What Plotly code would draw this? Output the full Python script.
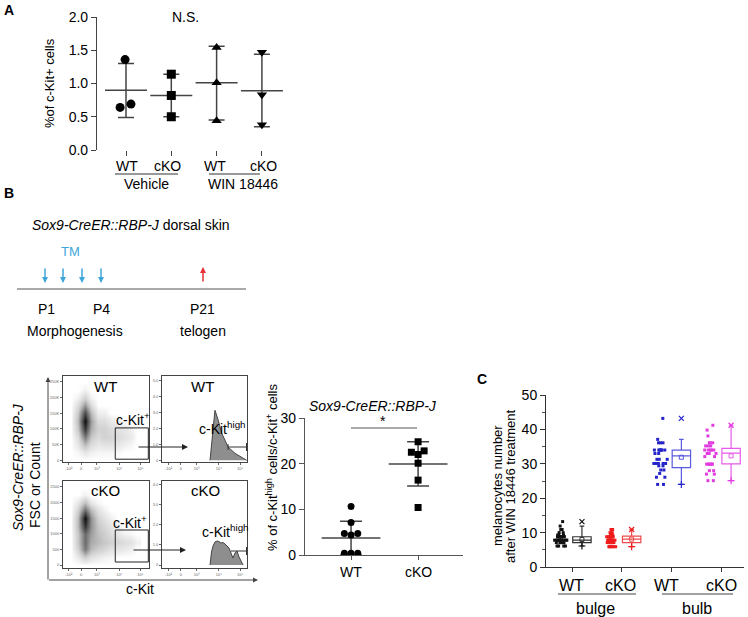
import plotly.graph_objects as go

W, H = 748, 617
FONT = "Liberation Sans, Arial, sans-serif"


def fx(px):
    return px / W


def fy(py):
    return 1 - py / H


# ---------------- DATA ----------------
# Panel A
a_genotype = ["WT", "cKO", "WT", "cKO"]
a_treatment = ["Vehicle", "WIN 18446"]
a_values = [[1.36, 0.64, 0.69], [1.14, 0.82, 0.50], [1.54, 1.01, 0.44], [1.47, 0.83, 0.38]]
a_jitter = [[-0.02, -0.13, 0.11], [0, 0, 0], [0, 0, 0], [0, 0, 0]]
a_mean = [0.90, 0.82, 1.01, 0.89]
a_upper = [1.30, 1.14, 1.56, 1.44]
a_lower = [0.49, 0.50, 0.45, 0.35]
a_yticks = [0, 0.5, 1.0, 1.5, 2.0]

# Panel B scatter
b_groups = ["WT", "cKO"]
b_wt = [10.6, 7.1, 4.7, 4.4, 4.7, 0.4, 0.4, 0.4]
b_wt_jitter = [0, 0, -0.1, 0, 0.1, -0.1, 0, 0.1]
b_ko = [24.8, 22.5, 22.8, 22.0, 20.1, 16.4, 10.4]
b_ko_jitter = [0, -0.1, 0.09, 0, 0, 0, 0]
b_mean = [3.7, 19.9]
b_upper = [7.4, 24.8]
b_lower = [0.0, 15.1]

# Panel B flow: density grids (c-Kit display units x FSC), relative event density
dens_x = [-0.6, -0.2, 0.2, 0.6, 1.0, 1.4, 1.8, 2.2, 2.6, 3.0, 3.4]
wt_dens_y = [0, 25, 50, 75, 100, 125, 150, 175, 200, 225, 250]
wt_dens = [
    [0, 0, 0, 0, 0, 0, 0, 0, 0, 0, 0],
    [0, 0.03, 0.10, 0.05, 0.03, 0.03, 0.03, 0.02, 0, 0, 0],
    [0, 0.10, 0.32, 0.15, 0.10, 0.12, 0.12, 0.10, 0.06, 0.03, 0],
    [0, 0.15, 0.55, 0.25, 0.15, 0.20, 0.18, 0.15, 0.12, 0.08, 0],
    [0, 0.25, 0.82, 0.35, 0.20, 0.20, 0.15, 0.12, 0.10, 0.06, 0],
    [0, 0.30, 1.00, 0.40, 0.15, 0.15, 0.08, 0.05, 0, 0, 0],
    [0, 0.25, 0.75, 0.30, 0.06, 0.06, 0, 0, 0, 0, 0],
    [0, 0.15, 0.42, 0.15, 0, 0, 0, 0, 0, 0, 0],
    [0, 0.05, 0.20, 0.05, 0, 0, 0, 0, 0, 0, 0],
    [0, 0, 0.05, 0, 0, 0, 0, 0, 0, 0, 0],
    [0, 0, 0, 0, 0, 0, 0, 0, 0, 0, 0],
]
ko_dens_y = [0, 250, 500, 750, 1000, 1250, 1500, 1750, 2000, 2250, 2500]
ko_dens = [
    [0, 0, 0, 0, 0, 0, 0, 0, 0, 0, 0],
    [0, 0.08, 0.22, 0.12, 0.08, 0.05, 0.03, 0, 0, 0, 0],
    [0, 0.20, 0.55, 0.30, 0.22, 0.18, 0.12, 0.10, 0.08, 0.05, 0],
    [0, 0.25, 0.60, 0.35, 0.30, 0.25, 0.20, 0.18, 0.15, 0.12, 0.05],
    [0, 0.25, 0.60, 0.40, 0.28, 0.22, 0.15, 0.10, 0.05, 0.03, 0],
    [0, 0.30, 0.85, 0.45, 0.25, 0.18, 0.10, 0.05, 0, 0, 0],
    [0, 0.30, 1.00, 0.45, 0.20, 0.12, 0.05, 0, 0, 0, 0],
    [0, 0.20, 0.60, 0.30, 0.12, 0.05, 0, 0, 0, 0, 0],
    [0, 0.10, 0.30, 0.10, 0.03, 0, 0, 0, 0, 0, 0],
    [0, 0, 0.05, 0, 0, 0, 0, 0, 0, 0, 0],
    [0, 0, 0, 0, 0, 0, 0, 0, 0, 0, 0],
]

# Panel B flow: histograms
hw_x = [1.76, 1.90, 1.98, 2.06, 2.26, 2.47, 2.67, 2.85, 3.27, 3.76, 3.98]
hw_y = [0, 27.6, 47.4, 59.3, 47.4, 32, 23.7, 15.8, 8.3, 2.4, 0]
hk_x = [1.76, 1.85, 1.94, 2.06, 2.18, 2.30, 2.42, 2.55, 2.67, 2.79, 2.91, 3.03, 3.15, 3.27, 3.39, 3.52, 3.64, 3.76]
hk_y = [0, 15.5, 22.6, 27.4, 28.6, 28, 26.2, 26.8, 25, 22.6, 20.2, 14.3, 8.3, 14.3, 16.7, 9.5, 3.6, 0]
flow_xticks = [-0.75, 0, 0.95, 2.3, 3.58]
flow_xtext = ["-10²", "0", "10³", "10⁴", "10⁵"]

# Panel C
c_genotype = ["WT", "cKO", "WT", "cKO"]
c_region = ["bulge", "bulb"]
c_points = [
    [13.2, 11.9, 10.9, 10.9, 10.0, 10.0, 9.3, 9.3, 9.3] + [8.8] * 8 + [7.8] * 10 + [7.1] * 6 + [6.1] * 4,
    [10.9, 10.9, 10.0, 10.0, 9.3, 9.3, 9.3] + [8.8] * 8 + [7.8] * 10 + [7.1] * 8 + [5.9] * 6,
    [43.2, 37.1, 36.1, 36.1, 36.1] + [34.0] * 7 + [33.0] * 2 + [31.3] * 3 + [30.1] * 5 + [29.4] * 2
    + [28.2] * 2 + [27.2] + [26.1] * 2 + [24.0] * 2,
    [41.2, 39.8, 38.1] + [36.1] * 3 + [35.2] * 3 + [34.0] * 5 + [33.0] * 3 + [32.1] * 2 + [29.9] * 6
    + [28.0] * 2 + [27.0] * 2 + [25.1] * 2,
]
c_q1 = [7.1, 7.1, 28.9, 30.0]
c_median = [7.8, 8.1, 32.3, 33.1]
c_q3 = [8.8, 9.0, 34.0, 34.5]
c_low = [6.1, 5.9, 24.0, 25.1]
c_high = [11.9, 10.9, 37.1, 41.2]
c_mean = [8.0, 8.1, 31.9, 32.3]
c_max = [13.2, 10.9, 43.2, 41.2]
c_colors = ["#111111", "#ee1c1c", "#2424c8", "#e03ce0"]
c_box_colors = ["#333333", "#f04a4a", "#5a5ae0", "#e85ae8"]

# ---------------- FIGURE ----------------
fig = go.Figure()

# Panel A
a_symbols = ["circle", "square", "triangle-up", "triangle-down"]
for i in range(4):
    pos = i + 1
    fig.add_trace(go.Scatter(
        x=[pos], y=[a_mean[i]], mode="markers", xaxis="x", yaxis="y",
        marker=dict(symbol="line-ew", size=30, line=dict(width=1.5, color="#444")),
        error_y=dict(type="data", symmetric=False, array=[a_upper[i] - a_mean[i]],
                     arrayminus=[a_mean[i] - a_lower[i]], width=8, thickness=1.5, color="#444"),
        hoverinfo="skip"))
    fig.add_trace(go.Scatter(
        x=[pos + j for j in a_jitter[i]], y=a_values[i], mode="markers", xaxis="x", yaxis="y",
        marker=dict(symbol=a_symbols[i], size=9, color="black")))

# Panel B scatter
for pos, vals, jit, sym in [(1, b_wt, b_wt_jitter, "circle"), (2, b_ko, b_ko_jitter, "square")]:
    i = pos - 1
    fig.add_trace(go.Scatter(
        x=[pos], y=[b_mean[i]], mode="markers", xaxis="x2", yaxis="y2",
        marker=dict(symbol="line-ew", size=42, line=dict(width=1.5, color="#444")),
        error_y=dict(type="data", symmetric=False, array=[b_upper[i] - b_mean[i]],
                     arrayminus=[b_mean[i] - b_lower[i]], width=11, thickness=1.5, color="#444")))
    fig.add_trace(go.Scatter(
        x=[pos + j for j in jit], y=vals, mode="markers", xaxis="x2", yaxis="y2",
        marker=dict(symbol=sym, size=7, color="black")))

# Flow density plots
gray_scale = [[0, "rgb(255,255,255)"], [0.06, "rgb(238,238,238)"], [0.25, "rgb(200,200,200)"],
              [0.55, "rgb(120,120,120)"], [1, "rgb(15,15,15)"]]
for zz, yy, xa, ya in [(wt_dens, wt_dens_y, "x4", "y4"), (ko_dens, ko_dens_y, "x6", "y6")]:
    fig.add_trace(go.Heatmap(
        x=dens_x, y=yy, z=zz, xaxis=xa, yaxis=ya, zmin=0, zmax=1, zsmooth="best",
        colorscale=gray_scale, showscale=False, hoverinfo="skip"))

# Flow histograms
for xs, ys, xa, ya in [(hw_x, hw_y, "x5", "y5"), (hk_x, hk_y, "x7", "y7")]:
    fig.add_trace(go.Scatter(
        x=xs, y=ys, mode="lines", fill="tozeroy", xaxis=xa, yaxis=ya,
        fillcolor="#8e8e8e", line=dict(color="#444", width=1)))

# Panel C
for i in range(4):
    pos = i + 1
    col = c_colors[i]
    bcol = c_box_colors[i]
    fig.add_trace(go.Box(
        x=[pos - 0.21] * len(c_points[i]), y=c_points[i], xaxis="x3", yaxis="y3",
        boxpoints="all", jitter=1.0, pointpos=0, width=0.34,
        line=dict(width=0, color="rgba(0,0,0,0)"), fillcolor="rgba(0,0,0,0)",
        marker=dict(color=col, size=3, symbol="square")))
    fig.add_trace(go.Box(
        x=[pos + 0.2], q1=[c_q1[i]], median=[c_median[i]], q3=[c_q3[i]],
        lowerfence=[c_low[i]], upperfence=[c_high[i]], xaxis="x3", yaxis="y3",
        width=0.37, whiskerwidth=0.25, boxpoints=False,
        line=dict(color=bcol, width=1.2), fillcolor="rgba(255,255,255,0)"))
    fig.add_trace(go.Scatter(
        x=[pos + 0.2], y=[c_mean[i]], mode="markers", xaxis="x3", yaxis="y3",
        marker=dict(symbol="square-open", size=4, color=bcol, line=dict(width=1))))
    fig.add_trace(go.Scatter(
        x=[pos + 0.2], y=[c_max[i]], mode="markers", xaxis="x3", yaxis="y3",
        marker=dict(symbol="x-thin", size=5, line=dict(width=1.2, color=col))))
    fig.add_trace(go.Scatter(
        x=[pos + 0.2], y=[c_low[i]], mode="markers", xaxis="x3", yaxis="y3",
        marker=dict(symbol="cross-thin", size=5, line=dict(width=1.2, color=col))))

# ---------------- AXES ----------------
tickfont = dict(family=FONT, size=14, color="black")
tiny = dict(family=FONT, size=4, color="#666")


def flow_axes(xdom, ydom, xr, yr, yvals, ytext):
    xa = dict(domain=xdom, range=xr, showline=True, mirror=True, linecolor="#444", linewidth=1,
              ticks="outside", ticklen=2, tickwidth=0.6, tickcolor="#666", tickvals=flow_xticks,
              ticktext=flow_xtext, tickfont=tiny, showgrid=False, zeroline=False, fixedrange=True,
              automargin=False)
    ya = dict(domain=ydom, range=yr, showline=True, mirror=True, linecolor="#444", linewidth=1,
              ticks="outside", ticklen=2, tickwidth=0.6, tickcolor="#666", tickvals=yvals,
              ticktext=ytext, tickfont=tiny, showgrid=False, zeroline=False, fixedrange=True,
              automargin=False)
    return xa, ya


xa4, ya4 = flow_axes([fx(63), fx(149)], [fy(462), fy(376)], [-1.1, 4.1], [-6, 269],
                     [0, 50, 100, 150, 200, 250], ["0", "50K", "100K", "150K", "200K", "250K"])
xa5, ya5 = flow_axes([fx(162), fx(247)], [fy(462), fy(376)], [-1.15, 4.0], [-2, 100],
                     [0, 19, 38, 57, 76, 95], ["0", "1.0", "2.0", "3.0", "4.0", "5.0"])
xa6, ya6 = flow_axes([fx(63), fx(149)], [fy(568), fy(481)], [-1.1, 4.1], [-96, 2692],
                     [0, 500, 1000, 1500, 2000, 2500], ["0", "500", "1000", "1500", "2000", "2500"])
xa7, ya7 = flow_axes([fx(162), fx(247)], [fy(568), fy(481)], [-1.15, 4.0], [-3.5, 100],
                     [0, 24, 48, 72, 96], ["0", "1.0", "2.0", "3.0", "4.0"])
xa4["anchor"], ya4["anchor"] = "y4", "x4"
xa5["anchor"], ya5["anchor"] = "y5", "x5"
xa6["anchor"], ya6["anchor"] = "y6", "x6"
xa7["anchor"], ya7["anchor"] = "y7", "x7"

fig.update_layout(
    template="none",
    width=W, height=617, margin=dict(l=0, r=0, t=0, b=0, pad=0, autoexpand=False),
    paper_bgcolor="white", plot_bgcolor="white", showlegend=False, boxmode="overlay",
    font=dict(family=FONT, size=14, color="black"),
    xaxis=dict(domain=[fx(97), fx(290)], range=[0.36, 4.62], anchor="y", showline=False,
               ticks="outside", ticklen=5, tickcolor="#444", tickvals=[1, 2, 3, 4],
               showticklabels=False, showgrid=False, zeroline=False, automargin=False),
    yaxis=dict(domain=[fy(150), fy(17)], range=[0, 2], anchor="x", showline=True,
               linecolor="#444", linewidth=1.2, ticks="outside", ticklen=5, tickcolor="#444",
               tickvals=a_yticks, ticktext=["%.1f" % v for v in a_yticks], tickfont=tickfont,
               showgrid=False, zeroline=False, automargin=False),
    xaxis2=dict(domain=[fx(305), fx(463)], range=[0.313, 2.67], anchor="y2", showline=True,
                linecolor="#555", linewidth=1.2, ticks="outside", ticklen=4, tickcolor="#555",
                tickvals=[1, 2], showticklabels=False, showgrid=False, zeroline=False,
                automargin=False),
    yaxis2=dict(domain=[fy(555), fy(418)], range=[0, 30], anchor="x2", showline=True,
                linecolor="#555", linewidth=1.2, ticks="outside", ticklen=5, tickcolor="#555",
                tickvals=[0, 10, 20, 30], tickfont=tickfont, showgrid=False, zeroline=False,
                automargin=False),
    xaxis3=dict(domain=[fx(546), fx(744)], range=[0.477, 4.46], anchor="y3", showline=True,
                linecolor="#333", linewidth=1, ticks="outside", ticklen=4, tickcolor="#333",
                tickvals=[1, 2, 3, 4], showticklabels=False, showgrid=False, zeroline=False,
                automargin=False),
    yaxis3=dict(domain=[fy(567), fy(395)], range=[0, 50], anchor="x3", showline=True,
                linecolor="#333", linewidth=1, ticks="outside", ticklen=5, tickcolor="#333",
                tickvals=[0, 10, 20, 30, 40, 50], tickfont=tickfont, showgrid=False, zeroline=False,
                minor=dict(ticks="outside", ticklen=3, dtick=5, tickcolor="#555"),
                automargin=False),
    xaxis4=xa4, yaxis4=ya4, xaxis5=xa5, yaxis5=ya5,
    xaxis6=xa6, yaxis6=ya6, xaxis7=xa7, yaxis7=ya7,
)

# ---------------- ANNOTATIONS & SHAPES ----------------
ann = []
shapes = []


def txt(px, py, s, size=14, color="black", angle=0, xanchor="center"):
    ann.append(dict(x=fx(px), y=fy(py), xref="paper", yref="paper", text=s, showarrow=False,
                    font=dict(family=FONT, size=size, color=color), textangle=angle,
                    xanchor=xanchor, yanchor="middle"))


def arrow(x0, y0, x1, y1, color="#222", width=1.0, head=2, size=1.0):
    # head at (x1, y1), tail at (x0, y0); offsets in pixels
    ann.append(dict(x=fx(x1), y=fy(y1), ax=x0 - x1, ay=y0 - y1, xref="paper", yref="paper",
                    axref="pixel", ayref="pixel", text="", showarrow=True, arrowhead=head,
                    arrowsize=size, arrowwidth=width, arrowcolor=color, standoff=0, startstandoff=0))


def line(x0, y0, x1, y1, color="#444", width=1.0):
    shapes.append(dict(type="line", xref="paper", yref="paper", x0=fx(x0), y0=fy(y0),
                       x1=fx(x1), y1=fy(y1), line=dict(color=color, width=width)))


# panel letters
txt(9, 10, "<b>A</b>", size=14)
txt(9, 193, "<b>B</b>", size=14)
txt(482, 379, "<b>C</b>", size=14)

# Panel A
txt(185, 17, "N.S.", size=14)
txt(50, 83, "%of c-Kit+ cells", size=13, angle=-90)
for px, s in zip([127, 167, 215, 263], a_genotype):
    txt(px, 166, s, size=14)
line(115, 174, 178, 174, "#333", 1)
line(209, 174, 260, 174, "#333", 1)
txt(146, 184, a_treatment[0], size=14)
txt(243, 184, a_treatment[1], size=14)

# Panel B timeline
txt(30, 225, "<i>Sox9-CreER::RBP-J</i> dorsal skin", size=14, xanchor="left")
txt(70, 252, "TM", size=13, color="#3fa6da")
for px in [45, 63, 82, 101]:
    arrow(px, 267, px, 283, color="#3fa6da", width=1.5, head=2, size=0.8)
arrow(203, 283, 203, 267, color="#e8303a", width=1.5, head=2, size=0.8)
line(17, 289, 246, 289, "#555", 1)
txt(46, 309, "P1", size=14)
txt(101, 309, "P4", size=14)
txt(202, 309, "P21", size=14)
txt(75, 331, "Morphogenesis", size=14)
txt(203, 331, "telogen", size=14)

# Flow panel annotations
txt(105, 386, "WT", size=15)
txt(203, 386, "WT", size=15)
txt(105, 490, "cKO", size=15)
txt(205, 490, "cKO", size=15)
txt(133, 419, "c-Kit<sup>+</sup>", size=14)
txt(130, 522, "c-Kit<sup>+</sup>", size=14)
txt(222, 428, "c-Kit<sup>high</sup>", size=14)
txt(225, 531, "c-Kit<sup>high</sup>", size=14)
shapes.append(dict(type="rect", xref="x4", yref="y4", x0=2.06, x1=4.06, y0=3, y1=103,
                   line=dict(color="#222", width=1)))
shapes.append(dict(type="rect", xref="x6", yref="y6", x0=2.06, x1=4.06, y0=96, y1=1122,
                   line=dict(color="#222", width=1)))
arrow(137, 447, 188, 447, "#222", 1.0, 2, 1.2)
arrow(132, 550, 186, 550, "#222", 1.0, 2, 1.2)
line(228, 447, 247, 447, "#333", 1)
line(228, 444, 228, 450, "#333", 1)
line(246.5, 443, 246.5, 451, "#333", 1)
line(231, 551, 247, 551, "#333", 1)
line(246.5, 547, 246.5, 555, "#333", 1)
arrow(48, 581, 48, 377, "#444", 1.0, 2, 1.0)
arrow(47.5, 580, 258, 580, "#444", 1.0, 2, 1.0)
txt(18, 467, "<i>Sox9-CreER::RBP-J</i>", size=14, angle=-90)
txt(35, 485, "FSC or Count", size=14, angle=-90)
txt(140, 589, "c-Kit", size=14)

# Panel B scatter annotations
txt(373, 406, "<i>Sox9-CreER::RBP-J</i>", size=14)
line(351, 428, 417, 428, "#555", 1)
txt(383, 421, "*", size=14)
txt(272, 468, "% of c-Kit<sup>high</sup> cells/c-Kit<sup>+</sup> cells", size=13, angle=-90)
txt(351, 572, b_groups[0], size=14)
txt(418, 572, b_groups[1], size=14)

# Panel C annotations
txt(497, 486, "melanocytes number", size=13, angle=-90)
txt(510, 486, "after WIN 18446 treatment", size=13, angle=-90)
for px, s in zip([571, 620, 666, 721], c_genotype):
    txt(px, 585, s, size=16)
line(558, 594, 636, 594, "#444", 1)
line(662, 594, 733, 594, "#444", 1)
txt(595, 608, c_region[0], size=16)
txt(697, 608, c_region[1], size=16)

fig.update_layout(annotations=ann, shapes=shapes)
fig.write_html("out.html", config={"displayModeBar": False},
               post_script="document.body.style.margin='0px';")
